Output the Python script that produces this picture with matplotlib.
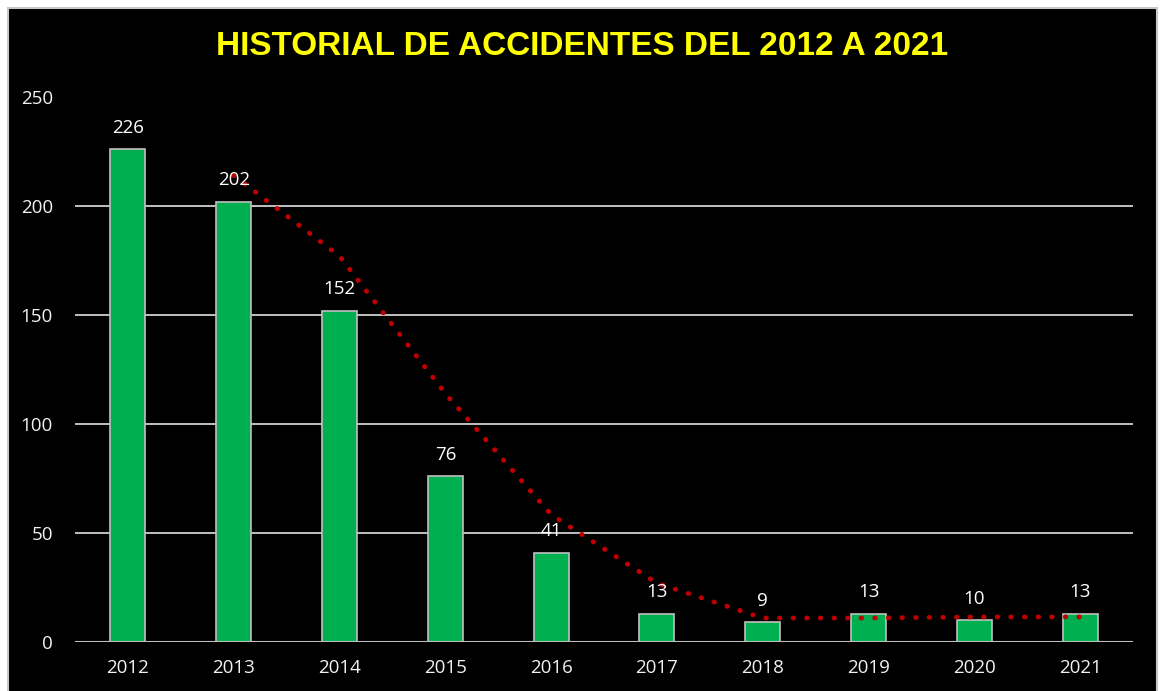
import matplotlib
matplotlib.use("Agg")
from matplotlib import pyplot as plt
from matplotlib.patches import Rectangle

# accidents per year
years = ['2012', '2013', '2014', '2015', '2016', '2017', '2018', '2019', '2020', '2021']
accidents = [226, 202, 152, 76, 41, 13, 9, 13, 10, 13]

# 2-period moving average trendline (starts at second year)
trend_years = years[1:]
trend_values = [214, 177, 114, 58.5, 27, 11, 11, 11.5, 11.5]

yticks = [0, 50, 100, 150, 200, 250]

label_font = 'Open Sans'

fig = plt.figure(figsize=(11.6, 6.91), dpi=100, facecolor='white')
# black chart area with thin grey border
fig.patches.append(Rectangle((0.0069, -0.01), 0.9905, 0.9984, transform=fig.transFigure,
                             facecolor='black', edgecolor='#c8c8c8', linewidth=1.5, zorder=-5))

ax = fig.add_axes([0.0647, 0.0709, 0.912, 0.7887])
ax.set_facecolor('black')

x = list(range(len(years)))
ax.bar(x, accidents, width=0.33, color='#00b050', edgecolor='#bfbfbf', linewidth=1.2, zorder=3)

for xi, v in zip(x, accidents):
    ax.annotate(str(v), (xi, v), xytext=(0, 9), textcoords='offset points',
                ha='center', va='bottom', color='white', fontsize=13.5, family=label_font, zorder=5)

tx = [years.index(y) for y in trend_years]
ax.plot(tx, trend_values, color='#c00000', linestyle=(0, (0.1, 2.7)), linewidth=3.5,
        dash_capstyle='round', zorder=4)

for t in yticks[1:-1]:
    ax.axhline(t, color='#d0d0d0', linewidth=1.3, zorder=1)
ax.axhline(0, color='#bfbfbf', linewidth=1.5, zorder=4)

ax.set_xlim(-0.5, len(years) - 0.5)
ax.set_ylim(0, 250)
ax.set_xticks(x)
ax.set_xticklabels(years)
ax.set_yticks(yticks)
ax.tick_params(axis='both', length=0, colors='white', labelsize=13.5)
ax.tick_params(axis='y', pad=16)
ax.tick_params(axis='x', pad=12)
for lbl in ax.get_xticklabels() + ax.get_yticklabels():
    lbl.set_family(label_font)
    lbl.set_color('#f2f2f2')
for s in ax.spines.values():
    s.set_visible(False)

fig.text(0.502, 0.932, 'HISTORIAL DE ACCIDENTES DEL 2012 A 2021', ha='center', va='center',
         color='#ffff00', fontsize=24, fontweight='bold', family='Liberation Sans')

fig.savefig('out.png', dpi=100, facecolor='white')
